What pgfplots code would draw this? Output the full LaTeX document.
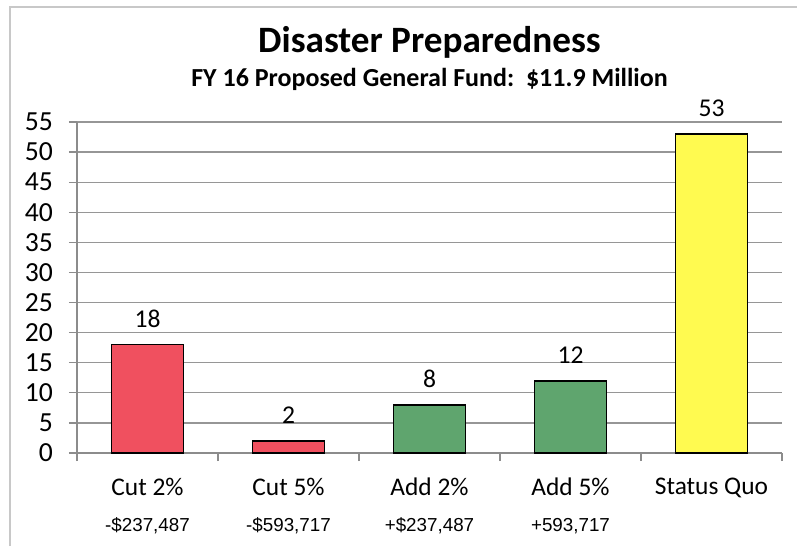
\documentclass[border=0pt]{standalone}
\usepackage{fontspec}
\setmainfont{Carlito}
\newfontfamily\narrowfont{Liberation Sans}
\usepackage{pgfplots}
\pgfplotsset{compat=1.18}
\definecolor{barred}{RGB}{240,80,95}
\definecolor{bargreen}{RGB}{95,165,110}
\definecolor{baryellow}{RGB}{255,250,80}
\definecolor{gridgray}{RGB}{150,150,150}
\definecolor{axisgray}{RGB}{140,140,140}
\definecolor{framegray}{RGB}{200,200,200}
\newcommand{\dl}[1]{{\narrowfont\fontsize{9.4}{18}\selectfont #1}}
\begin{document}
\begin{tikzpicture}
\begin{axis}[
  at={(0,0)}, anchor=south west,
  scale only axis, width=352.5pt, height=165.5pt,
  xmin=-0.5, xmax=4.5, ymin=0, ymax=55,
  ytick={0,5,...,55},
  xtick={0,1,2,3,4},
  xticklabels={{Cut 2\%\\\dl{-\$237,487}},{Cut 5\%\\\dl{-\$593,717}},{Add 2\%\\\dl{+\$237,487}},{Add 5\%\\\dl{+593,717}},{Status Quo}},
  minor xtick={-0.5,0.5,1.5,2.5,3.5,4.5},
  axis x line=bottom, axis y line=left,
  axis line style={-, draw=axisgray, line width=0.6pt},
  ymajorgrids, major grid style={draw=gridgray, line width=0.6pt},
  tick align=outside, major tick length=4pt, minor tick length=4pt,
  major x tick style={draw=none},
  minor x tick style={draw=axisgray, line width=0.6pt},
  ytick style={draw=axisgray, line width=0.6pt},
  /pgf/number format/assume math mode=true,
  yticklabel style={font=\fontsize{13.8}{16}\selectfont, xshift=-4.5pt},
  xticklabel style={align=center, font=\fontsize{12.7}{18}\selectfont, yshift=-5pt},
  nodes near coords,
  every node near coord/.append style={font=\fontsize{12.8}{14}\selectfont, yshift=5pt, black},
  ybar,
]
\addplot[ybar, bar width=36pt, bar shift=0pt, fill=barred, draw=black, line width=0.75pt] coordinates {(0,18) (1,2)};
\addplot[ybar, bar width=36pt, bar shift=0pt, fill=bargreen, draw=black, line width=0.75pt] coordinates {(2,8) (3,12)};
\addplot[ybar, bar width=36pt, bar shift=0pt, fill=baryellow, draw=black, line width=0.75pt] coordinates {(4,53)};
\end{axis}
\node[anchor=base, font=\bfseries\fontsize{18.6}{22}\selectfont] at (176.25pt,200pt) {Disaster Preparedness};
\node[anchor=base, font=\bfseries\fontsize{13}{15}\selectfont] at (176.25pt,183pt) {FY 16 Proposed General Fund:\ \ \$11.9 Million};
\draw[framegray, line width=0.8pt] (-33.5pt,-46.5pt) -- (-33.5pt,223pt) -- (360pt,223pt);
\pgfresetboundingbox
\useasboundingbox (-38.5pt,-46.5pt) rectangle (360pt,226.5pt);
\end{tikzpicture}
\end{document}
